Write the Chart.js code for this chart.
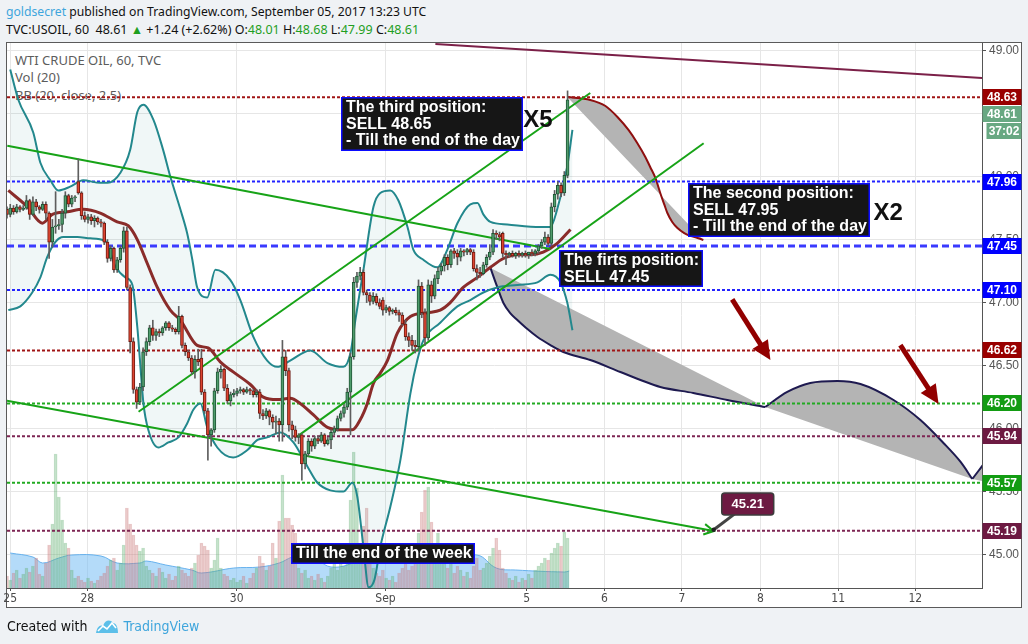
<!DOCTYPE html>
<html>
<head>
<meta charset="utf-8">
<title>WTI CRUDE OIL, 60, TVC</title>
<script src="https://cdn.jsdelivr.net/npm/chart.js@4.4.1/dist/chart.umd.min.js"></script>
<style>
  html, body { margin: 0; padding: 0; width: 1028px; height: 644px; overflow: hidden; background: #eff2f5; }
  body { position: relative; font-family: "Noto Sans", "Liberation Sans", sans-serif; }
  .hdr { position: absolute; left: 6px; white-space: nowrap; font-size: 12.5px; line-height: 18px; color: #111; }
  .g { color: #1f9f1f; }
  .blue { color: #3ea5dc; }
  #frame { position: absolute; left: 6px; top: 42px; width: 1014px; height: 564px; border: 1px solid #5a5a5a; background: #fff; }
  .leg { position: absolute; left: 15px; font-size: 13px; line-height: 17px; color: #5c5c5c; white-space: nowrap; }
  #chart { position: absolute; left: 0; top: 0; }
  #foot { position: absolute; left: 7px; top: 616px; font-family: "Liberation Sans Narrow", "DejaVu Sans Condensed", sans-serif; font-size: 14px; line-height: 20px; color: #111; white-space: nowrap; }
  #foot svg { vertical-align: -3px; margin: 0 5px 0 7px; }
</style>
</head>
<body>
<div class="hdr" style="top:3px;font-size:12.2px"><span class="blue">goldsecret</span> published on TradingView.com, September 05, 2017 13:23 UTC</div>
<div class="hdr" style="top:21px">TVC:USOIL, 60&nbsp; 48.61 <span class="g">&#9650;</span> +1.24 (+2.62%) O:<span class="g">48.01</span> H:<span class="g">48.68</span> L:<span class="g">47.99</span> C:<span class="g">48.61</span></div>
<div id="frame"></div>
<div class="leg" style="top:52px">WTI CRUDE OIL, 60, TVC</div>
<div class="leg" style="top:69px">Vol (20)</div>
<div class="leg" style="top:87px">BB (20, close, 2.5)</div>
<canvas id="chart" width="1028" height="644"></canvas>
<div id="foot">Created with<svg width="24" height="16" viewBox="0 0 24 16"><path d="M1 15 C2 9 5 6 8 8 C10 2 15 1 18 5 C21 5 23 9 23 15 Z" fill="#5cbfe9"/><polyline points="3,13 8,8 12,11 17,5 21,10" fill="none" stroke="#fff" stroke-width="1.6"/></svg><span class="blue">TradingView</span></div>

<script>
// hourly bars are placed on "slots": one slot = one hour, the axis runs from slot 0 to the right edge
const dayTickSlots = [1, 24.8, 70.9, 116.8, 160.4, 184.4, 208.3, 232.5, 256.5, 280.3];
const dayTickLabels = ['25', '28', '30', 'Sep', '5', '6', '7', '8', '11', '12'];
const priceTicks = [45, 45.5, 46, 46.5, 47, 47.5, 48, 48.5, 49];

const opens = [
  47.74, 47.70, 47.75, 47.72, 47.76, 47.74, 47.75, 47.81, 47.70, 47.80,
  47.76, 47.74, 47.78, 47.71, 47.48, 47.60, 47.61, 47.62, 47.71, 47.85,
  47.78, 47.83, 47.96, 47.87, 47.69, 47.66, 47.68, 47.65, 47.67, 47.64,
  47.63, 47.48, 47.35, 47.43, 47.26, 47.34, 47.43, 47.57, 47.12, 46.69,
  46.31, 46.21, 46.33, 46.61, 46.69, 46.80, 46.74, 46.77, 46.76, 46.80,
  46.84, 46.80, 46.79, 46.77, 46.89, 46.66, 46.61, 46.56, 46.45, 46.55,
  46.56, 46.29, 46.14, 45.95, 45.99, 46.30, 46.45, 46.47, 46.32, 46.22,
  46.27, 46.28, 46.30, 46.31, 46.29, 46.31, 46.30, 46.27, 46.29, 46.12,
  46.10, 46.14, 46.09, 46.05, 46.06, 46.03, 46.57, 46.46, 46.03, 45.99,
  45.93, 45.95, 45.72, 45.80, 45.90, 45.86, 45.92, 45.90, 45.95, 45.88,
  45.91, 45.97, 46.00, 46.08, 46.12, 46.17, 46.29, 46.57, 47.16, 47.21,
  47.24, 47.08, 47.06, 47.01, 47.05, 47.00, 47.02, 46.94, 46.96, 46.93,
  46.94, 46.92, 46.90, 46.83, 46.73, 46.70, 46.66, 46.65, 47.13, 46.92,
  46.72, 47.14, 47.05, 47.19, 47.25, 47.29, 47.36, 47.30, 47.41, 47.39,
  47.36, 47.41, 47.40, 47.42, 47.40, 47.27, 47.24, 47.23, 47.30, 47.36,
  47.40, 47.55, 47.54, 47.55, 47.39, 47.38, 47.39, 47.37, 47.39, 47.38,
  47.39, 47.38, 47.40, 47.39, 47.41, 47.45, 47.48, 47.52, 47.47, 47.76,
  47.86, 47.93, 47.87, 48.01
];
const highs = [
  47.76, 47.78, 47.77, 47.78, 47.77, 47.77, 47.85, 47.82, 47.84, 47.82,
  47.77, 47.80, 47.80, 47.72, 47.66, 47.88, 47.66, 47.74, 47.88, 47.86,
  47.85, 47.85, 48.14, 47.88, 47.72, 47.70, 47.70, 47.69, 47.68, 47.66,
  47.64, 47.50, 47.45, 47.44, 47.36, 47.45, 47.60, 47.60, 47.14, 46.72,
  46.33, 46.36, 46.64, 46.72, 46.82, 46.86, 46.79, 46.79, 46.81, 46.85,
  46.85, 46.82, 46.80, 46.97, 46.90, 46.68, 46.62, 46.58, 46.58, 46.63,
  46.63, 46.31, 46.16, 46.00, 46.32, 46.48, 46.50, 46.48, 46.35, 46.29,
  46.31, 46.32, 46.33, 46.32, 46.33, 46.32, 46.31, 46.31, 46.31, 46.15,
  46.16, 46.15, 46.11, 46.10, 46.08, 46.70, 46.62, 46.48, 46.06, 46.02,
  45.96, 45.96, 45.82, 45.92, 45.92, 45.94, 45.94, 45.97, 45.96, 45.93,
  45.99, 46.02, 46.10, 46.14, 46.19, 46.32, 46.60, 47.20, 47.24, 47.28,
  47.26, 47.10, 47.08, 47.08, 47.07, 47.03, 47.04, 46.98, 46.97, 46.95,
  46.96, 46.94, 46.92, 46.86, 46.76, 46.74, 46.70, 47.18, 47.16, 46.95,
  47.18, 47.17, 47.22, 47.28, 47.31, 47.38, 47.38, 47.42, 47.43, 47.42,
  47.43, 47.42, 47.43, 47.43, 47.42, 47.30, 47.28, 47.32, 47.38, 47.46,
  47.58, 47.57, 47.56, 47.56, 47.41, 47.40, 47.41, 47.40, 47.41, 47.40,
  47.41, 47.40, 47.42, 47.42, 47.46, 47.50, 47.56, 47.54, 47.79, 47.89,
  47.96, 47.95, 48.04, 48.68
];
const lows = [
  47.67, 47.68, 47.70, 47.71, 47.72, 47.73, 47.74, 47.66, 47.69, 47.73,
  47.71, 47.73, 47.66, 47.35, 47.44, 47.55, 47.58, 47.56, 47.67, 47.76,
  47.76, 47.80, 47.86, 47.66, 47.64, 47.63, 47.62, 47.60, 47.62, 47.60,
  47.46, 47.32, 47.33, 47.24, 47.24, 47.32, 47.40, 47.10, 46.60, 46.28,
  46.16, 46.19, 46.30, 46.58, 46.66, 46.70, 46.70, 46.73, 46.74, 46.78,
  46.78, 46.77, 46.75, 46.75, 46.64, 46.58, 46.54, 46.43, 46.40, 46.50,
  46.27, 46.12, 45.75, 45.86, 45.97, 46.28, 46.40, 46.30, 46.20, 46.18,
  46.25, 46.26, 46.28, 46.27, 46.28, 46.27, 46.25, 46.25, 46.08, 46.07,
  46.08, 46.03, 46.00, 45.96, 45.90, 45.90, 46.42, 45.98, 45.92, 45.90,
  45.88, 45.59, 45.68, 45.78, 45.82, 45.84, 45.88, 45.89, 45.86, 45.87,
  45.84, 45.95, 45.98, 46.06, 46.09, 46.15, 45.95, 46.55, 47.12, 47.18,
  47.06, 47.00, 46.98, 46.99, 46.98, 46.95, 46.90, 46.92, 46.90, 46.91,
  46.90, 46.85, 46.82, 46.70, 46.65, 46.62, 46.60, 46.62, 46.88, 46.66,
  46.70, 47.00, 47.03, 47.15, 47.22, 47.25, 47.26, 47.28, 47.35, 47.30,
  47.33, 47.37, 47.38, 47.38, 47.25, 47.18, 47.20, 47.22, 47.28, 47.34,
  47.38, 47.50, 47.49, 47.36, 47.30, 47.36, 47.36, 47.35, 47.36, 47.36,
  47.36, 47.35, 47.37, 47.37, 47.39, 47.43, 47.46, 47.45, 47.45, 47.72,
  47.82, 47.84, 47.85, 47.99
];
const closes = [
  47.70, 47.75, 47.72, 47.76, 47.74, 47.75, 47.81, 47.70, 47.80, 47.76,
  47.74, 47.78, 47.71, 47.48, 47.60, 47.61, 47.62, 47.71, 47.85, 47.78,
  47.83, 47.84, 47.87, 47.69, 47.66, 47.68, 47.65, 47.67, 47.64, 47.63,
  47.48, 47.35, 47.43, 47.26, 47.34, 47.43, 47.57, 47.12, 46.69, 46.31,
  46.21, 46.33, 46.61, 46.69, 46.80, 46.74, 46.77, 46.76, 46.80, 46.84,
  46.80, 46.79, 46.77, 46.89, 46.66, 46.61, 46.56, 46.45, 46.55, 46.53,
  46.29, 46.14, 45.95, 45.99, 46.30, 46.45, 46.47, 46.32, 46.22, 46.27,
  46.28, 46.30, 46.31, 46.29, 46.31, 46.30, 46.27, 46.29, 46.12, 46.10,
  46.14, 46.09, 46.05, 46.06, 46.03, 46.57, 46.46, 46.03, 45.99, 45.93,
  45.94, 45.72, 45.80, 45.90, 45.86, 45.92, 45.90, 45.95, 45.88, 45.91,
  45.97, 46.00, 46.08, 46.12, 46.17, 46.29, 46.57, 47.16, 47.21, 47.24,
  47.08, 47.06, 47.01, 47.05, 47.00, 46.97, 46.94, 46.96, 46.93, 46.94,
  46.92, 46.90, 46.83, 46.73, 46.70, 46.66, 46.65, 47.13, 46.92, 46.72,
  47.14, 47.05, 47.19, 47.25, 47.29, 47.36, 47.30, 47.41, 47.39, 47.36,
  47.41, 47.40, 47.42, 47.40, 47.27, 47.24, 47.23, 47.30, 47.36, 47.40,
  47.55, 47.54, 47.52, 47.39, 47.38, 47.39, 47.37, 47.39, 47.38, 47.39,
  47.38, 47.40, 47.39, 47.41, 47.45, 47.48, 47.52, 47.47, 47.76, 47.86,
  47.93, 47.87, 48.01, 48.61
];
const volumes = [
  12, 8, 15, 18, 10, 14, 20, 16, 22, 30,
  14, 12, 25, 43, 64, 134, 91, 68, 45, 40,
  18, 10, 12, 8, 6, 10, 7, 5, 8, 12,
  15, 22, 28, 30, 18, 25, 43, 80, 64, 53,
  43, 37, 40, 22, 18, 15, 12, 20, 16, 10,
  14, 8, 12, 22, 18, 15, 12, 20, 25, 33,
  45, 42, 38, 20, 28, 50, 20, 14, 12, 8,
  10, 6, 8, 12, 5, 10, 15, 20, 32, 25,
  18, 22, 45, 30, 67, 113, 70, 70, 63, 55,
  20, 15, 18, 10, 12, 8, 14, 10, 6, 12,
  20, 25, 18, 28, 22, 30, 88, 136, 100, 45,
  62, 80, 25, 20, 15, 12, 18, 10, 8, 12,
  6, 15, 20, 25, 18, 22, 30, 55, 76, 98,
  101, 66, 40, 55, 30, 25, 20, 28, 15, 22,
  18, 12, 16, 10, 22, 30, 18, 20, 25, 32,
  40, 50, 38, 20, 15, 10, 8, 12, 6, 10,
  8, 14, 10, 18, 22, 25, 30, 28, 35, 40,
  45, 42, 56, 50
];
const volumeMa = [
  [1, 35], [8, 31], [11, 25], [16, 30], [20, 33], [29, 32], [34, 25], [41, 25], [43, 27],
  [49, 23], [57, 18], [60, 15], [70, 20], [78, 21], [84, 25], [88, 31], [93, 35], [100, 21],
  [110, 28], [115, 31], [125, 31], [145, 33], [151, 20], [157, 18], [172, 16], [173.5, 17]
];

// BB (20, close, 2.5) as [slot, price]
const bbUpper = [
  [1.0, 48.85], [3.5, 48.61], [8.1, 48.35], [10.3, 48.11], [13.4, 47.97], [15.8, 47.89], [19.5, 47.92],
  [23.5, 47.97], [28.8, 47.95], [31.0, 47.95], [35.0, 48.03], [38.0, 48.21], [40.2, 48.51], [42.1, 48.57],
  [45.2, 48.45], [48.2, 48.21], [50.4, 48.00], [53.5, 47.74], [55.6, 47.55], [57.2, 47.34], [58.7, 47.12],
  [61.8, 47.04], [64.3, 47.26], [68.9, 47.18], [72.0, 47.02], [76.0, 46.73], [80.3, 46.54], [83.4, 46.49],
  [87.4, 46.54], [93.6, 46.62], [98.9, 46.52], [103.8, 46.49], [106.0, 46.60], [107.5, 46.86], [110.0, 47.26],
  [113.1, 47.76], [115.2, 47.87], [118.3, 47.89], [120.8, 47.81], [123.6, 47.60], [125.4, 47.42], [128.5, 47.34],
  [132.8, 47.28], [135.9, 47.42], [139.0, 47.63], [143.0, 47.78], [145.2, 47.79], [147.0, 47.70], [149.2, 47.64],
  [154.4, 47.62], [164.6, 47.60], [167.7, 47.60], [169.8, 47.74], [172.9, 48.08], [174.5, 48.37]
];
const bbMiddle = [
  [0.4, 47.89], [6.3, 47.76], [10.9, 47.63], [14.0, 47.70], [18.6, 47.72], [23.5, 47.74], [28.8, 47.71],
  [34.0, 47.64], [37.4, 47.61], [40.2, 47.50], [43.3, 47.31], [46.4, 47.12], [50.4, 46.94], [53.5, 46.86],
  [58.7, 46.66], [62.1, 46.64], [65.8, 46.53], [69.8, 46.45], [75.1, 46.35], [79.1, 46.25], [83.4, 46.23],
  [87.4, 46.24], [90.5, 46.20], [94.5, 46.11], [98.9, 46.01], [103.8, 45.99], [106.6, 45.99], [109.0, 46.07],
  [111.2, 46.20], [113.1, 46.36], [115.2, 46.44], [117.4, 46.54], [120.5, 46.76], [124.5, 46.89], [129.7, 46.92],
  [133.7, 46.94], [136.8, 47.00], [140.8, 47.12], [145.2, 47.20], [149.2, 47.28], [153.2, 47.35], [157.5, 47.38],
  [161.5, 47.38], [165.5, 47.40], [169.8, 47.47], [173.9, 47.58]
];
const bbLower = [
  [0.4, 46.94], [4.1, 46.97], [7.8, 47.08], [10.3, 47.20], [12.4, 47.36], [14.9, 47.48], [17.4, 47.52],
  [21.7, 47.52], [25.7, 47.51], [30.3, 47.49], [33.4, 47.29], [36.5, 47.20], [38.7, 47.14], [40.2, 46.81],
  [41.1, 46.52], [42.1, 46.20], [43.6, 45.99], [46.7, 45.85], [49.8, 45.89], [52.9, 45.93], [55.6, 46.04],
  [57.5, 46.15], [59.7, 46.20], [61.8, 46.01], [64.9, 45.85], [69.8, 45.77], [74.2, 45.83], [77.3, 45.91],
  [80.3, 45.93], [84.4, 45.97], [88.4, 45.89], [92.7, 45.70], [95.8, 45.57], [99.8, 45.51], [103.8, 45.50],
  [106.6, 45.57], [108.1, 45.46], [110.0, 45.06], [111.6, 44.74], [113.4, 44.80], [115.2, 45.06], [118.3, 45.38],
  [121.4, 45.75], [124.5, 46.28], [126.6, 46.54], [128.5, 46.70], [133.7, 46.84], [139.0, 46.97], [143.0, 47.02],
  [147.0, 47.08], [151.3, 47.12], [157.5, 47.14], [163.7, 47.16], [167.7, 47.22], [170.8, 47.16], [172.9, 47.00],
  [174.5, 46.78]
];

const levelPrices = [48.63, 47.96, 47.45, 47.10, 46.62, 46.20, 45.94, 45.57, 45.19];
const levelLineColors = ['#a01414', '#2323ff', '#3a3aff', '#2323ff', '#a01414', '#22aa22', '#7d2553', '#22aa22', '#7d2553'];
const levelLabelColors = ['#990000', '#0000ff', '#0000ff', '#0000ff', '#990000', '#139c13', '#6d1a42', '#139c13', '#6d1a42'];
const levelDashed = [false, false, true, false, false, false, false, false, false];

const trendLines = [
  [[0.1, 48.245], [167.7, 47.425]],
  [[0, 46.221], [218.1, 45.187]],
  [[40.6, 46.134], [180.0, 48.663]],
  [[89.5, 45.936], [215.0, 48.264]]
];
const resistanceLine = [[132.2, 49.052], [300.9, 48.783]];

// projected paths (curve + chord, gray between them)
const curveThird = [
  [172.9, 48.632], [180.0, 48.608], [184.7, 48.560], [188.4, 48.473], [191.8, 48.370], [194.5, 48.267],
  [197.0, 48.156], [198.5, 48.076], [200.1, 47.989], [201.6, 47.870], [202.9, 47.775], [203.8, 47.711],
  [205.3, 47.640], [206.9, 47.592], [209.0, 47.552], [210.9, 47.529], [213.1, 47.513], [214.9, 47.497]
];
const chordThird = [[172.9, 48.632], [214.9, 47.497]];
const curveFirst = [
  [149.2, 47.275], [151.3, 47.124], [153.2, 46.997], [155.3, 46.917], [157.5, 46.862], [160.6, 46.790],
  [163.7, 46.727], [167.7, 46.663], [171.7, 46.608], [180.0, 46.544], [189.3, 46.449], [195.5, 46.386],
  [201.6, 46.330], [211.8, 46.283], [222.3, 46.227], [234.0, 46.171]
];
const chordFirst = [[149.2, 47.275], [234.0, 46.171]];
const curveNext = [
  [234.0, 46.171], [240.8, 46.291], [247.9, 46.362], [256.3, 46.378], [263.4, 46.354], [273.6, 46.227],
  [281.9, 46.068], [289.0, 45.886], [294.3, 45.735], [297.9, 45.600]
];
const chordNext = [[234.0, 46.171], [297.9, 45.600]];
const curveTail = [[297.9, 45.600], [301.9, 45.735]];
const chordTail = [[297.9, 45.600], [301.9, 45.580]];

const arrowStarts = [[223.8, 47.026], [275.7, 46.663]];
const arrowEnds = [[235.6, 46.544], [287.5, 46.195]];

const noteTexts = [
  ['The third position:', 'SELL 48.65', '- Till the end of the day'],
  ['The second position:', 'SELL 47.95', '- Till the end of the day'],
  ['The firts position:', 'SELL 47.45'],
  ['Till the end of the week']
];
const noteSlots = [103.2, 210.3, 170.5, 87.8];
const notePrices = [48.632, 47.949, 47.418, 45.092];
const sizeTexts = ['X5', 'X2'];
const sizeSlots = [159.3, 267.4];
const sizePrices = [48.394, 47.655];

const calloutText = '45.21';
const calloutAt = [228.6, 45.401];
const calloutTarget = [218.1, 45.197];
const countdownText = '37:02';

/* ---------- datasets ---------- */
const pts = arr => arr.map(([x, y]) => ({ x, y }));
const idx = closes.map((c, i) => i);
const isUp = i => closes[i] >= opens[i];
const GRAY = '#b4b4b4';

const datasets = [];
const add = ds => { datasets.push(ds); return datasets.length - 1; };

add({ type: 'line', yAxisID: 'yv', data: pts(volumeMa), borderColor: 'rgba(92,172,236,0.9)', borderWidth: 1,
  backgroundColor: 'rgba(118,190,244,0.55)', fill: 'origin', pointRadius: 0, tension: 0.4, order: 50 });
add({ type: 'bar', yAxisID: 'yv', data: idx.map(i => ({ x: i, y: volumes[i] })), grouped: false, barThickness: 3,
  backgroundColor: idx.map(i => isUp(i) ? 'rgba(110,185,125,0.16)' : 'rgba(210,130,130,0.16)'),
  borderColor: idx.map(i => isUp(i) ? 'rgba(100,175,115,0.4)' : 'rgba(200,120,120,0.4)'),
  borderWidth: 1, order: 49 });

const lowerIdx = add({ type: 'line', data: pts(bbLower), borderColor: '#23888d', borderWidth: 2, pointRadius: 0,
  cubicInterpolationMode: 'monotone', fill: false, order: 14 });
add({ type: 'line', data: pts(bbUpper), borderWidth: 0, pointRadius: 0, cubicInterpolationMode: 'monotone',
  fill: { target: lowerIdx, above: 'rgba(35,136,141,0.065)', below: 'rgba(35,136,141,0.065)' }, order: 45 });
add({ type: 'line', data: pts(bbUpper), borderColor: '#23888d', borderWidth: 2, pointRadius: 0,
  cubicInterpolationMode: 'monotone', fill: false, order: 14 });
add({ type: 'line', data: pts(bbMiddle), borderColor: '#8a2c2a', borderWidth: 3, pointRadius: 0,
  cubicInterpolationMode: 'monotone', fill: false, order: 13 });

[[curveThird, chordThird, '#8e0f0f'], [curveFirst, chordFirst, '#1e1a50'], [curveNext, chordNext, '#1e1a50'],
 [curveTail, chordTail, '#1e1a50']].forEach(([curve, chord, color]) => {
  const c = add({ type: 'line', data: pts(chord), borderWidth: 0, pointRadius: 0, fill: false, order: 31 });
  add({ type: 'line', data: pts(curve), borderColor: color, borderWidth: 2, pointRadius: 0,
    cubicInterpolationMode: 'monotone', fill: { target: c, above: GRAY, below: GRAY }, order: 30 });
});

levelPrices.forEach((p, i) => add({
  type: 'line', data: [{ x: 0, y: p }, { x: 300.9, y: p }], borderColor: levelLineColors[i],
  borderWidth: levelDashed[i] ? 3 : 2, borderDash: levelDashed[i] ? [7, 4] : [3, 2],
  pointRadius: 0, fill: false, order: 20
}));

trendLines.forEach(l => add({ type: 'line', data: pts(l), borderColor: '#17a317', borderWidth: 2,
  pointRadius: 0, fill: false, order: 10 }));
add({ type: 'line', data: pts(resistanceLine), borderColor: '#7b2048', borderWidth: 2, pointRadius: 0, fill: false, order: 10 });

// candles: wick + body as floating bars
add({ type: 'bar', data: idx.map(i => ({ x: i, y: [lows[i], highs[i]] })), grouped: false, barThickness: 1,
  backgroundColor: '#5e5e5e', order: 4 });
add({ type: 'bar', data: idx.map(i => {
    const lo = Math.min(opens[i], closes[i]), hi = Math.max(opens[i], closes[i]);
    return { x: i, y: [lo, Math.max(hi, lo + 0.008)] };
  }), grouped: false, barThickness: 3, borderWidth: 1, borderSkipped: false,
  backgroundColor: idx.map(i => isUp(i) ? '#4f9c6c' : '#dc4430'),
  borderColor: idx.map(i => isUp(i) ? '#1f5535' : '#6e1a12'), order: 3 });

/* ---------- drawings on top ---------- */
const drawings = {
  id: 'drawings',
  afterDatasetsDraw(chart) {
    const { ctx, chartArea: a } = chart;
    const X = v => chart.scales.x.getPixelForValue(v);
    const Y = v => chart.scales.y.getPixelForValue(v);
    ctx.save();
    ctx.beginPath();
    ctx.rect(a.left, a.top, a.right - a.left, a.bottom - a.top);
    ctx.clip();

    // open arrow head at the end of the lower falling trend line
    const [[tx0, ty0], [tx1, ty1]] = trendLines[1];
    const ex = X(tx1), ey = Y(ty1);
    const ang = Math.atan2(ey - Y(ty0), ex - X(tx0));
    ctx.strokeStyle = '#17a317';
    ctx.lineWidth = 2;
    ctx.beginPath();
    ctx.moveTo(ex - 11 * Math.cos(ang - 0.5), ey - 11 * Math.sin(ang - 0.5));
    ctx.lineTo(ex, ey);
    ctx.lineTo(ex - 11 * Math.cos(ang + 0.5), ey - 11 * Math.sin(ang + 0.5));
    ctx.stroke();

    // red arrows
    arrowStarts.forEach(([sx, sy], i) => {
      const ax = X(sx), ay = Y(sy), bx = X(arrowEnds[i][0]), by = Y(arrowEnds[i][1]);
      const t = Math.atan2(by - ay, bx - ax), c = Math.cos(t), s = Math.sin(t);
      ctx.strokeStyle = ctx.fillStyle = '#920000';
      ctx.lineWidth = 5;
      ctx.beginPath();
      ctx.moveTo(ax, ay);
      ctx.lineTo(bx - 14 * c, by - 14 * s);
      ctx.stroke();
      ctx.beginPath();
      ctx.moveTo(bx, by);
      ctx.lineTo(bx - 19 * c + 9 * s, by - 19 * s - 9 * c);
      ctx.lineTo(bx - 19 * c - 9 * s, by - 19 * s + 9 * c);
      ctx.closePath();
      ctx.fill();
    });

    // text notes
    ctx.font = 'bold 16px "Liberation Sans", Arial, sans-serif';
    ctx.textBaseline = 'middle';
    ctx.textAlign = 'left';
    noteTexts.forEach((lines, i) => {
      const bx = Math.round(X(noteSlots[i])), by = Math.round(Y(notePrices[i]));
      const w = Math.ceil(Math.max(...lines.map(s => ctx.measureText(s).width))) + 8;
      const h = Math.round(lines.length * 16.5 + 4);
      ctx.fillStyle = '#161616';
      ctx.fillRect(bx, by, w, h);
      ctx.strokeStyle = '#0b0bff';
      ctx.lineWidth = 1.5;
      ctx.strokeRect(bx + 0.75, by + 0.75, w - 1.5, h - 1.5);
      ctx.fillStyle = '#ffffff';
      lines.forEach((s, j) => ctx.fillText(s, bx + 5, by + 2.5 + 16.5 * (j + 0.5)));
    });

    ctx.font = 'bold 24px "Liberation Sans", Arial, sans-serif';
    ctx.textBaseline = 'alphabetic';
    ctx.fillStyle = '#111';
    sizeTexts.forEach((s, i) => ctx.fillText(s, X(sizeSlots[i]), Y(sizePrices[i])));

    // 45.21 callout
    const cx = X(calloutAt[0]), cy = Y(calloutAt[1]);
    const px = X(calloutTarget[0]), py = Y(calloutTarget[1]);
    ctx.strokeStyle = '#444';
    ctx.lineWidth = 3;
    ctx.beginPath();
    ctx.moveTo(cx - 12, cy + 9);
    ctx.lineTo(px, py);
    ctx.stroke();
    ctx.fillStyle = '#222';
    ctx.beginPath();
    ctx.arc(px, py, 2.2, 0, Math.PI * 2);
    ctx.fill();
    ctx.beginPath();
    ctx.roundRect(cx - 26, cy - 11, 52, 22, 3);
    ctx.fillStyle = '#6d1a42';
    ctx.fill();
    ctx.lineWidth = 1.5;
    ctx.strokeStyle = '#3c3c3c';
    ctx.stroke();
    ctx.font = 'bold 13px "Liberation Sans", Arial, sans-serif';
    ctx.fillStyle = '#fff';
    ctx.textAlign = 'center';
    ctx.textBaseline = 'middle';
    ctx.fillText(calloutText, cx, cy + 0.5);
    ctx.restore();
  },
  afterDraw(chart) {
    const { ctx, chartArea: a } = chart;
    const Y = v => chart.scales.y.getPixelForValue(v);
    ctx.save();
    ctx.font = 'bold 12px "Liberation Sans", Arial, sans-serif';
    ctx.textAlign = 'center';
    ctx.textBaseline = 'middle';
    const label = (text, yy, bg, inset) => {
      ctx.fillStyle = bg;
      ctx.fillRect(a.right + 0.5 + inset, Math.round(yy - 8), 39 - inset, 16);
      ctx.fillStyle = '#fff';
      ctx.fillText(text, a.right + 20 + inset / 2, Math.round(yy) + 0.5);
    };
    levelPrices.forEach((p, i) => label(p.toFixed(2), Y(p), levelLabelColors[i], 0));
    // last price, pushed below the 48.63 tag, with bar countdown
    const last = closes[closes.length - 1];
    let ly = Y(last);
    const busy = Y(levelPrices[0]);
    if (Math.abs(ly - busy) < 17) ly = busy + 17;
    label(last.toFixed(2), ly, '#68a882', 0);
    label(countdownText, ly + 16.5, '#68a882', 4);
    ctx.restore();
  }
};

Chart.defaults.font.family = '"Liberation Sans", Arial, sans-serif';

new Chart(document.getElementById('chart'), {
  type: 'bar',
  data: { datasets },
  plugins: [drawings],
  options: {
    responsive: false,
    animation: false,
    devicePixelRatio: 1,
    layout: { padding: { left: 7, top: 43, right: 6, bottom: 37 } },
    plugins: { legend: { display: false }, tooltip: { enabled: false } },
    scales: {
      x: {
        type: 'linear', min: 0, max: 300.9, offset: false,
        grid: { color: '#e6e6e6', offset: false, tickColor: '#555', tickLength: 3 },
        border: { color: '#555' },
        afterBuildTicks: s => { s.ticks = dayTickSlots.map(v => ({ value: v })); },
        afterFit: s => { s.height = 19; },
        ticks: {
          autoSkip: false, maxRotation: 0, padding: 1, color: '#4a4a4a',
          font: { family: '"Liberation Sans Narrow", "DejaVu Sans Condensed", sans-serif', size: 12 },
          callback: (v, i) => dayTickLabels[i]
        }
      },
      y: {
        position: 'right', min: 44.735, max: 49.06,
        grid: { color: '#e6e6e6', tickColor: '#555', tickLength: 4 },
        border: { color: '#555' },
        afterBuildTicks: s => { s.ticks = priceTicks.map(v => ({ value: v })); },
        afterFit: s => { s.width = 40; },
        ticks: { color: '#555', padding: 3, font: { size: 12 }, callback: v => v.toFixed(2) }
      },
      yv: { display: false, min: 0, max: 545 }
    }
  }
});
</script>
</body>
</html>
